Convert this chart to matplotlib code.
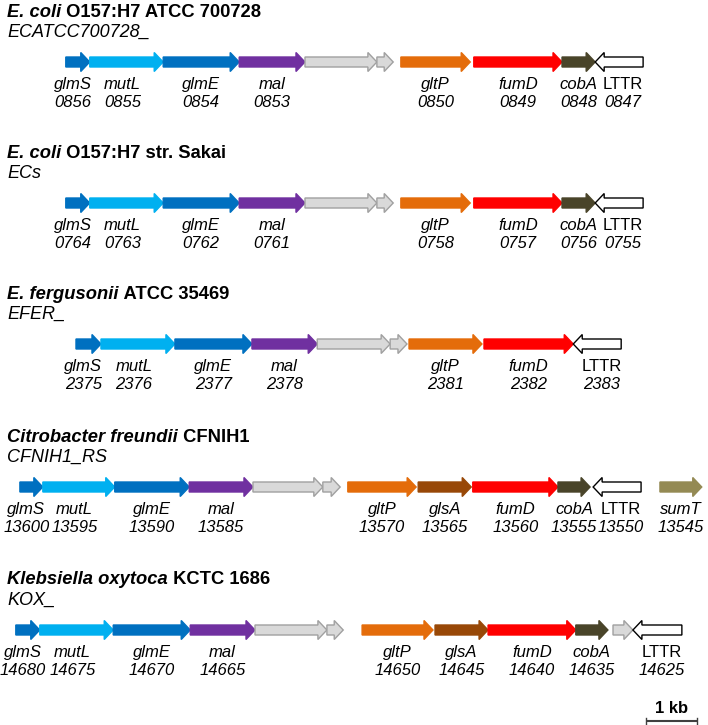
import matplotlib
matplotlib.use('Agg')
import matplotlib.pyplot as plt
from matplotlib.patches import Polygon

plt.rcParams['font.family'] = ['Liberation Sans', 'DejaVu Sans']

# gene coordinates in kb (start, end), strand, gene name and locus tag suffix
# E. coli O157:H7 ATCC 700728
ec1_start = [1.29, 1.76, 3.20, 4.69, 5.98, 7.39, 7.86, 9.29, 11.02, 11.67]
ec1_end = [1.76, 3.20, 4.69, 5.98, 7.39, 7.71, 9.22, 11.02, 11.67, 12.61]
ec1_strand = [1, 1, 1, 1, 1, 1, 1, 1, 1, -1]
ec1_names = ['glmS', 'mutL', 'glmE', 'mal', '', '', 'gltP', 'fumD', 'cobA', 'LTTR']
ec1_ids = ['0856', '0855', '0854', '0853', '', '', '0850', '0849', '0848', '0847']

# E. coli O157:H7 str. Sakai (same layout)
ec2_start = ec1_start
ec2_end = ec1_end
ec2_strand = ec1_strand
ec2_names = ec1_names
ec2_ids = ['0764', '0763', '0762', '0761', '', '', '0758', '0757', '0756', '0755']

# E. fergusonii ATCC 35469
ef_start = [1.49, 1.98, 3.43, 4.94, 6.22, 7.65, 8.02, 9.49, 11.24]
ef_end = [1.98, 3.43, 4.94, 6.22, 7.65, 7.98, 9.45, 11.24, 12.18]
ef_strand = [1, 1, 1, 1, 1, 1, 1, 1, -1]
ef_names = ['glmS', 'mutL', 'glmE', 'mal', '', '', 'gltP', 'fumD', 'LTTR']
ef_ids = ['2375', '2376', '2377', '2378', '', '', '2381', '2382', '2383']

# Citrobacter freundii CFNIH1
cf_start = [0.39, 0.84, 2.25, 3.71, 4.96, 6.33, 6.82, 8.20, 9.27, 10.94, 11.63, 12.94]
cf_end = [0.84, 2.25, 3.71, 4.96, 6.33, 6.67, 8.16, 9.24, 10.94, 11.57, 12.57, 13.76]
cf_strand = [1, 1, 1, 1, 1, 1, 1, 1, 1, 1, -1, 1]
cf_names = ['glmS', 'mutL', 'glmE', 'mal', '', '', 'gltP', 'glsA', 'fumD', 'cobA', 'LTTR', 'sumT']
cf_ids = ['13600', '13595', '13590', '13585', '', '', '13570', '13565', '13560', '13555', '13550', '13545']

# Klebsiella oxytoca KCTC 1686
ko_start = [0.31, 0.78, 2.22, 3.73, 5.00, 6.41, 7.10, 8.53, 9.57, 11.29, 12.02, 12.41]
ko_end = [0.78, 2.22, 3.73, 5.00, 6.41, 6.73, 8.49, 9.57, 11.29, 11.92, 12.41, 13.37]
ko_strand = [1, 1, 1, 1, 1, 1, 1, 1, 1, 1, 1, -1]
ko_names = ['glmS', 'mutL', 'glmE', 'mal', '', '', 'gltP', 'glsA', 'fumD', 'cobA', '', 'LTTR']
ko_ids = ['14680', '14675', '14670', '14665', '', '', '14650', '14645', '14640', '14635', '', '14625']

titles = [[('E. coli', 'italic'), (' O157:H7 ATCC 700728', 'normal')],
          [('E. coli', 'italic'), (' O157:H7 str. Sakai', 'normal')],
          [('E. fergusonii', 'italic'), (' ATCC 35469', 'normal')],
          [('Citrobacter freundii', 'italic'), (' CFNIH1', 'normal')],
          [('Klebsiella oxytoca', 'italic'), (' KCTC 1686', 'normal')]]
prefixes = ['ECATCC700728_', 'ECs', 'EFER_', 'CFNIH1_RS', 'KOX_']

rows = [(ec1_start, ec1_end, ec1_strand, ec1_names, ec1_ids),
        (ec2_start, ec2_end, ec2_strand, ec2_names, ec2_ids),
        (ef_start, ef_end, ef_strand, ef_names, ef_ids),
        (cf_start, cf_end, cf_strand, cf_names, cf_ids),
        (ko_start, ko_end, ko_strand, ko_names, ko_ids)]

# styles
colors = {'glmS': '#0070C0', 'mutL': '#00B0F0', 'glmE': '#0070C0', 'mal': '#7030A0',
          '': '#D9D9D9', 'gltP': '#E46C0A', 'glsA': '#984807', 'fumD': '#FF0000',
          'cobA': '#494429', 'LTTR': 'white', 'sumT': '#948A54'}
edges = {'': '#A0A0A0', 'LTTR': 'black'}
label_nudge = {'glmS': -0.1, 'mutL': -0.08, 'LTTR': 0.08}

W, H = 708, 725
PX_PER_KB = 51.0
row_base = [0, 141, 282, 425, 568]
body = 5.0   # half height of arrow body (px)
head = 9.5   # half height of arrow head (px)
head_len = 9 / PX_PER_KB

fig = plt.figure(figsize=(W / 100, H / 100), dpi=100)
ax = fig.add_axes([0, 0, 1, 1])
ax.set_xlim(0, W / PX_PER_KB)
ax.set_ylim(H, 0)
ax.axis('off')


def arrow(x0, x1, y, strand, fc, ec):
    hl = min(head_len, x1 - x0)
    if strand > 0:
        pts = [(x0, y - body), (x1 - hl, y - body), (x1 - hl, y - head), (x1, y),
               (x1 - hl, y + head), (x1 - hl, y + body), (x0, y + body)]
    else:
        pts = [(x1, y - body), (x0 + hl, y - body), (x0 + hl, y - head), (x0, y),
               (x0 + hl, y + head), (x0 + hl, y + body), (x1, y + body)]
    ax.add_patch(Polygon(pts, closed=True, facecolor=fc, edgecolor=ec, lw=1, joinstyle='miter'))


renderer = fig.canvas.get_renderer()
inv = ax.transData.inverted()

for r, (start, end, strand, names, ids) in enumerate(rows):
    base = row_base[r]
    # species title, italic part followed by upright part
    x = 7 / PX_PER_KB
    for txt, style in titles[r]:
        t = ax.text(x, base + 16.5, txt, fontsize=13.2, fontweight='bold', fontstyle=style,
                    ha='left', va='baseline')
        bb = t.get_window_extent(renderer)
        x = inv.transform((bb.x1, bb.y0))[0]
    ax.text(7 / PX_PER_KB, base + 37, prefixes[r], fontsize=13, fontstyle='italic',
            ha='left', va='baseline')

    y = base + 62
    for s, e, st, n, i in zip(start, end, strand, names, ids):
        arrow(s, e, y, st, colors[n], edges.get(n, colors[n]))
        if n:
            cx = (s + e) / 2 + label_nudge.get(n, 0)
            ax.text(cx, base + 89, n, fontsize=12,
                    fontstyle='normal' if n == 'LTTR' else 'italic', ha='center', va='baseline')
            ax.text(cx, base + 107, i, fontsize=12, fontstyle='italic', ha='center', va='baseline')

# scale bar
sb_x0 = 12.67
sb_y = 721
ax.plot([sb_x0, sb_x0 + 1], [sb_y, sb_y], color='#404040', lw=1.5, solid_capstyle='butt')
ax.plot([sb_x0, sb_x0], [sb_y - 3, sb_y + 3], color='#404040', lw=1)
ax.plot([sb_x0 + 1, sb_x0 + 1], [sb_y - 3, sb_y + 3], color='#404040', lw=1)
ax.text(sb_x0 + 0.5, 713, '1 kb', fontsize=12, fontweight='bold', ha='center', va='baseline')

fig.savefig('out.png', dpi=100)
